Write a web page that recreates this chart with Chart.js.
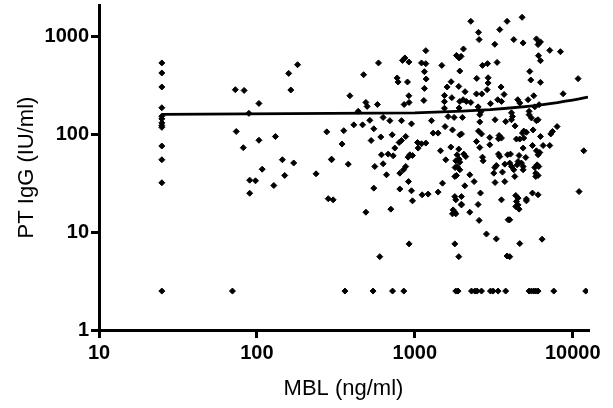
<!DOCTYPE html>
<html>
<head>
<meta charset="utf-8">
<script src="https://cdn.jsdelivr.net/npm/chart.js@4.4.1/dist/chart.umd.min.js"></script>
<style>
html,body{margin:0;padding:0;background:#fff;}
#wrap{width:613px;height:408px;}
</style>
</head>
<body>
<div id="wrap"><canvas id="c" width="613" height="408"></canvas></div>
<script>
// MBL (ng/ml) of each subject
const mblValues = [
25,25,25,25,25,25,25,25,25,25,25,25,25,
73,83,103,89,159,181,164,74,82,103,131,277,145,171,297,108,90,98,150,128,237,90,283,70,
589,836,865,917,474,773,784,899,388,490,499,580,917,920,856,
2263,3840,2532,3453,2554,1174,3212,2033,1836,1907,1964,1103,1174,1483,2683,2887,3320,1151,1927,1180,2469,2912,1698,2912,1602,1899,3519,1151,2081,2870,2457,2657,1541,1716,3677,1141,1541,1927,2023,2120,2263,3352,3539,3015,1907,1541,2517,
4780,4235,4853,5892,6125,6250,6036,7158,8365,6072,6250,5347,5427,6250,10817,8696,5668,5217,4487,4622,5753,6125,
438,630,695,824,953,519,411,467,355,550,719,609,876,529,824,796,1041,346,747,1050,930,907,967,615,678,730,297,379,558,630,876,848,804,662,912,550,804,953,967,304,
2619,2580,1276,1625,1774,2004,3224,2580,3764,1555,1733,1307,1405,1927,1975,2532,2645,2985,3419,3539,3389,2457,1174,1103,2985,2580,1691,1899,1455,2043,2103,1853,1907,3389,3453,3867,2683,2709,1571,1818,1927,1800,1853,1927,3284,3212,3715,3164,3591,2230,1793,1836,2375,1498,3224,3715,2074,1405,1113,1215,1793,1975,2606,3539,1975,
4095,4155,4095,5294,5294,5481,5892,6036,4315,7963,7444,7265,4899,5092,4807,5614,6250,4402,4622,4899,5561,6496,7158,4853,5892,6187,6036,11752,4035,4576,5044,4509,4738,4444,4853,3995,4095,4235,5946,6096,5753,4853,5834,6036,5834,4299,10977,4359,4509,5092,5561,6036,
490,705,920,600,361,544,723,852,
1818,1975,1749,1793,1818,1733,2517,2230,2554,3902,2843,3284,1793,1899,3840,1818,1879,2286,2400,2481,2645,3015,3134,3369,3764,
4402,4509,4359,4576,5092,3995,4622,6397,3995,5294,5481,5668,5834,6036,7588,12096
];
// PT IgG (IU/ml) of each subject
const iggValues = [
537,424,305,187,153,144,131,123,118,76,55,32,2.5,
286,281,207,164,420,515,284,107,73,87,95,106,55,51,55,44,34,33.5,38,30,39.5,25,22,2.5,
537,570,604,549,407,377,343,343,248,212,193,202,248,212,202,
1430,1430,1104,1177,930,717,833,746,641,604,627,537,528,507,507,528,544,437,444,368,373,379,345,335,305,309,305,295,273,286,259,259,250,237,256,222,216,217,226,217,212,226,217,206,186,185,191,
1572,930,860,946,860,881,827,722,700,637,566,440,359,340,371,260,248,226,226,209,191,201,
172,149,138,138,128,139,125,125,109,114,99,94,95,86.5,86.5,82.6,82.6,79.6,72.4,72.4,61.8,58.5,60.8,61.8,62.8,60.3,55.8,49.6,46.9,50,46.9,43.4,40.1,38.6,32.9,28.2,27.6,26.5,20.9,21.4,
170,159,138,152,149,149,141,134,135,120,111,103,103,98.7,101,108,101,92.9,97.3,91.6,90.1,84.5,81.4,80.1,78.2,73.4,74.1,70.7,67.9,62.8,59.3,61.8,55.8,62.8,59.3,61.8,58.5,53.6,54.9,53.6,52,45.8,46.9,43.4,48,45.8,49.6,40.1,41.1,38.6,37.1,38,32.9,31.7,32.2,32.9,29.8,25.7,24.1,24.5,23.1,23.1,25.1,21.4,19.3,
166,152,141,172,159,147,138,141,122,120,107,101,108,105,103,111,95.1,89.5,89.5,91.6,76.9,76.9,76.9,72.4,67.9,65.2,61.8,67.9,62.8,60.8,58,52.7,50.8,48.8,46.9,50.8,46.9,43.4,48.8,46.9,45.8,43.4,40.1,38,37.1,37.1,26,23.7,22.3,21.8,25.1,24.1,
16.0,17.2,7.59,5.62,2.5,2.5,2.5,2.5,
21.4,19,16.9,16,15.4,15.4,19.2,16,13.2,13.4,9.58,8.54,7.59,5.62,5.71,2.5,2.5,2.5,2.5,2.5,2.5,2.5,2.5,2.5,2.5,
20.6,19,18.3,17.2,20.9,13.4,7.64,8.48,5.62,2.5,2.5,2.5,2.5,2.5,2.5,2.5
];
// fitted regression line, read along its length
const fitMbl = [25,1000,2000,3000,4000,5000,6000,7000,8000,9000,10000,11000,12000,12500];
const fitIgg = [160,166,173,179,186,192,198,205,211,218,224,230,237,240];
// axis ticks
const xTicks = [10,100,1000,10000];
const yTicks = [1,10,100,1000];
const xRange = [10,12500];
const yRange = [1,2100];

const points = mblValues.map((m,i)=>({x:m,y:iggValues[i]}));
const fit = fitMbl.map((m,i)=>({x:m,y:fitIgg[i]}));

const tickFont = {family:'"Liberation Sans", Arial, sans-serif', size:20, weight:'bold'};
const titleFont = {family:'"Liberation Sans", Arial, sans-serif', size:22, weight:'normal'};

new Chart(document.getElementById('c'), {
  type:'scatter',
  data:{datasets:[
    {data:points, pointStyle:'rectRot', pointRadius:3, pointBackgroundColor:'#000', pointBorderColor:'#000', pointBorderWidth:1, showLine:false},
    {data:fit, showLine:true, borderColor:'#000', borderWidth:2.8, pointRadius:0, fill:false, tension:0}
  ]},
  options:{
    responsive:false, animation:false, devicePixelRatio:1,
    layout:{padding:{top:5,right:25,left:0,bottom:0}},
    plugins:{legend:{display:false}, tooltip:{enabled:false}},
    scales:{
      x:{type:'logarithmic', position:'bottom', min:xRange[0], max:xRange[1],
        afterBuildTicks:(s)=>{s.ticks = xTicks.map(v=>({value:v, major:true}));},
        afterFit:(s)=>{s.height = 78; s.paddingLeft = 0; s.paddingRight = 0;},
        border:{display:true,color:'#000',width:3},
        grid:{display:true,drawOnChartArea:false,drawTicks:true,tickLength:8,tickWidth:3,tickColor:'#000',color:'#000',lineWidth:3},
        ticks:{autoSkip:false, maxRotation:0, padding:3, color:'#000', font:tickFont, callback:(v)=>String(v)},
        title:{display:true, text:'MBL (ng/ml)', color:'#000', font:titleFont, padding:{top:0,bottom:6}}
      },
      y:{type:'logarithmic', position:'left', min:yRange[0], max:yRange[1],
        afterBuildTicks:(s)=>{s.ticks = yTicks.map(v=>({value:v, major:true}));},
        afterFit:(s)=>{s.width = 99; s.paddingTop = 0; s.paddingBottom = 0;},
        border:{display:true,color:'#000',width:3},
        grid:{display:true,drawOnChartArea:false,drawTicks:true,tickLength:8,tickWidth:3,tickColor:'#000',color:'#000',lineWidth:3},
        ticks:{autoSkip:false, padding:2, color:'#000', font:tickFont, callback:(v)=>String(v)},
        title:{display:true, text:'PT IgG (IU/ml)', color:'#000', font:titleFont, padding:{top:14,bottom:0}}
      }
    }
  }
});
</script>
</body>
</html>
